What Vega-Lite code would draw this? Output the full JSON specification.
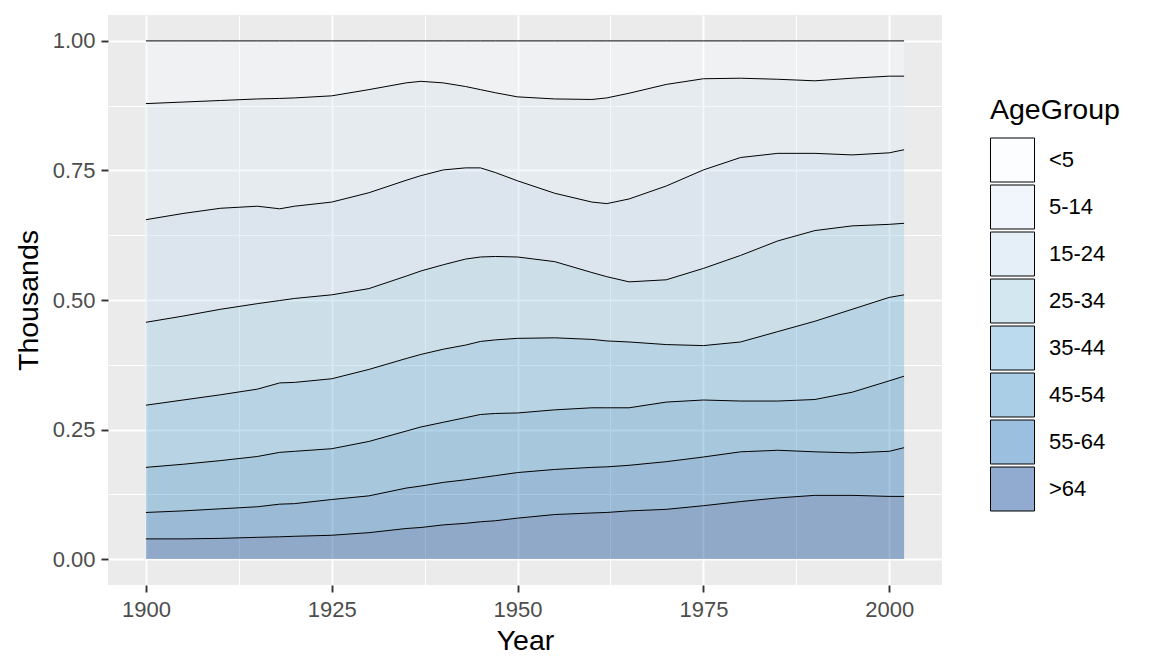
{
  "$schema": "https://vega.github.io/schema/vega-lite/v6.json",
  "width": 834,
  "height": 570,
  "autosize": {"type": "none"},
  "padding": {"left": 108, "top": 15, "right": 210, "bottom": 87},
  "background": "white",
  "datasets": {
    "groups": [
      {"AgeGroup": "<5", "idx": 1},
      {"AgeGroup": "5-14", "idx": 2},
      {"AgeGroup": "15-24", "idx": 3},
      {"AgeGroup": "25-34", "idx": 4},
      {"AgeGroup": "35-44", "idx": 5},
      {"AgeGroup": "45-54", "idx": 6},
      {"AgeGroup": "55-64", "idx": 7},
      {"AgeGroup": ">64", "idx": 8}
    ],
    "pop": [
      {"Year":1900,"AgeGroup":"<5","Share":0.121},{"Year":1900,"AgeGroup":"5-14","Share":0.224},{"Year":1900,"AgeGroup":"15-24","Share":0.198},{"Year":1900,"AgeGroup":"25-34","Share":0.160},{"Year":1900,"AgeGroup":"35-44","Share":0.120},{"Year":1900,"AgeGroup":"45-54","Share":0.087},{"Year":1900,"AgeGroup":"55-64","Share":0.051},{"Year":1900,"AgeGroup":">64","Share":0.039},
      {"Year":1905,"AgeGroup":"<5","Share":0.118},{"Year":1905,"AgeGroup":"5-14","Share":0.215},{"Year":1905,"AgeGroup":"15-24","Share":0.198},{"Year":1905,"AgeGroup":"25-34","Share":0.162},{"Year":1905,"AgeGroup":"35-44","Share":0.124},{"Year":1905,"AgeGroup":"45-54","Share":0.090},{"Year":1905,"AgeGroup":"55-64","Share":0.054},{"Year":1905,"AgeGroup":">64","Share":0.039},
      {"Year":1910,"AgeGroup":"<5","Share":0.115},{"Year":1910,"AgeGroup":"5-14","Share":0.208},{"Year":1910,"AgeGroup":"15-24","Share":0.195},{"Year":1910,"AgeGroup":"25-34","Share":0.165},{"Year":1910,"AgeGroup":"35-44","Share":0.127},{"Year":1910,"AgeGroup":"45-54","Share":0.093},{"Year":1910,"AgeGroup":"55-64","Share":0.057},{"Year":1910,"AgeGroup":">64","Share":0.040},
      {"Year":1915,"AgeGroup":"<5","Share":0.112},{"Year":1915,"AgeGroup":"5-14","Share":0.207},{"Year":1915,"AgeGroup":"15-24","Share":0.188},{"Year":1915,"AgeGroup":"25-34","Share":0.165},{"Year":1915,"AgeGroup":"35-44","Share":0.130},{"Year":1915,"AgeGroup":"45-54","Share":0.097},{"Year":1915,"AgeGroup":"55-64","Share":0.059},{"Year":1915,"AgeGroup":">64","Share":0.042},
      {"Year":1918,"AgeGroup":"<5","Share":0.111},{"Year":1918,"AgeGroup":"5-14","Share":0.213},{"Year":1918,"AgeGroup":"15-24","Share":0.177},{"Year":1918,"AgeGroup":"25-34","Share":0.159},{"Year":1918,"AgeGroup":"35-44","Share":0.134},{"Year":1918,"AgeGroup":"45-54","Share":0.100},{"Year":1918,"AgeGroup":"55-64","Share":0.063},{"Year":1918,"AgeGroup":">64","Share":0.043},
      {"Year":1920,"AgeGroup":"<5","Share":0.110},{"Year":1920,"AgeGroup":"5-14","Share":0.209},{"Year":1920,"AgeGroup":"15-24","Share":0.178},{"Year":1920,"AgeGroup":"25-34","Share":0.162},{"Year":1920,"AgeGroup":"35-44","Share":0.133},{"Year":1920,"AgeGroup":"45-54","Share":0.101},{"Year":1920,"AgeGroup":"55-64","Share":0.063},{"Year":1920,"AgeGroup":">64","Share":0.044},
      {"Year":1925,"AgeGroup":"<5","Share":0.106},{"Year":1925,"AgeGroup":"5-14","Share":0.205},{"Year":1925,"AgeGroup":"15-24","Share":0.179},{"Year":1925,"AgeGroup":"25-34","Share":0.162},{"Year":1925,"AgeGroup":"35-44","Share":0.135},{"Year":1925,"AgeGroup":"45-54","Share":0.098},{"Year":1925,"AgeGroup":"55-64","Share":0.069},{"Year":1925,"AgeGroup":">64","Share":0.046},
      {"Year":1930,"AgeGroup":"<5","Share":0.094},{"Year":1930,"AgeGroup":"5-14","Share":0.199},{"Year":1930,"AgeGroup":"15-24","Share":0.185},{"Year":1930,"AgeGroup":"25-34","Share":0.156},{"Year":1930,"AgeGroup":"35-44","Share":0.139},{"Year":1930,"AgeGroup":"45-54","Share":0.105},{"Year":1930,"AgeGroup":"55-64","Share":0.071},{"Year":1930,"AgeGroup":">64","Share":0.051},
      {"Year":1935,"AgeGroup":"<5","Share":0.081},{"Year":1935,"AgeGroup":"5-14","Share":0.188},{"Year":1935,"AgeGroup":"15-24","Share":0.185},{"Year":1935,"AgeGroup":"25-34","Share":0.159},{"Year":1935,"AgeGroup":"35-44","Share":0.140},{"Year":1935,"AgeGroup":"45-54","Share":0.110},{"Year":1935,"AgeGroup":"55-64","Share":0.078},{"Year":1935,"AgeGroup":">64","Share":0.059},
      {"Year":1937,"AgeGroup":"<5","Share":0.078},{"Year":1937,"AgeGroup":"5-14","Share":0.182},{"Year":1937,"AgeGroup":"15-24","Share":0.184},{"Year":1937,"AgeGroup":"25-34","Share":0.161},{"Year":1937,"AgeGroup":"35-44","Share":0.140},{"Year":1937,"AgeGroup":"45-54","Share":0.114},{"Year":1937,"AgeGroup":"55-64","Share":0.080},{"Year":1937,"AgeGroup":">64","Share":0.061},
      {"Year":1940,"AgeGroup":"<5","Share":0.081},{"Year":1940,"AgeGroup":"5-14","Share":0.168},{"Year":1940,"AgeGroup":"15-24","Share":0.183},{"Year":1940,"AgeGroup":"25-34","Share":0.163},{"Year":1940,"AgeGroup":"35-44","Share":0.141},{"Year":1940,"AgeGroup":"45-54","Share":0.116},{"Year":1940,"AgeGroup":"55-64","Share":0.082},{"Year":1940,"AgeGroup":">64","Share":0.066},
      {"Year":1943,"AgeGroup":"<5","Share":0.088},{"Year":1943,"AgeGroup":"5-14","Share":0.157},{"Year":1943,"AgeGroup":"15-24","Share":0.176},{"Year":1943,"AgeGroup":"25-34","Share":0.166},{"Year":1943,"AgeGroup":"35-44","Share":0.140},{"Year":1943,"AgeGroup":"45-54","Share":0.120},{"Year":1943,"AgeGroup":"55-64","Share":0.084},{"Year":1943,"AgeGroup":">64","Share":0.069},
      {"Year":1945,"AgeGroup":"<5","Share":0.094},{"Year":1945,"AgeGroup":"5-14","Share":0.151},{"Year":1945,"AgeGroup":"15-24","Share":0.172},{"Year":1945,"AgeGroup":"25-34","Share":0.163},{"Year":1945,"AgeGroup":"35-44","Share":0.141},{"Year":1945,"AgeGroup":"45-54","Share":0.122},{"Year":1945,"AgeGroup":"55-64","Share":0.085},{"Year":1945,"AgeGroup":">64","Share":0.072},
      {"Year":1947,"AgeGroup":"<5","Share":0.100},{"Year":1947,"AgeGroup":"5-14","Share":0.154},{"Year":1947,"AgeGroup":"15-24","Share":0.162},{"Year":1947,"AgeGroup":"25-34","Share":0.161},{"Year":1947,"AgeGroup":"35-44","Share":0.142},{"Year":1947,"AgeGroup":"45-54","Share":0.120},{"Year":1947,"AgeGroup":"55-64","Share":0.087},{"Year":1947,"AgeGroup":">64","Share":0.074},
      {"Year":1950,"AgeGroup":"<5","Share":0.108},{"Year":1950,"AgeGroup":"5-14","Share":0.162},{"Year":1950,"AgeGroup":"15-24","Share":0.147},{"Year":1950,"AgeGroup":"25-34","Share":0.157},{"Year":1950,"AgeGroup":"35-44","Share":0.144},{"Year":1950,"AgeGroup":"45-54","Share":0.115},{"Year":1950,"AgeGroup":"55-64","Share":0.088},{"Year":1950,"AgeGroup":">64","Share":0.079},
      {"Year":1955,"AgeGroup":"<5","Share":0.112},{"Year":1955,"AgeGroup":"5-14","Share":0.182},{"Year":1955,"AgeGroup":"15-24","Share":0.132},{"Year":1955,"AgeGroup":"25-34","Share":0.147},{"Year":1955,"AgeGroup":"35-44","Share":0.139},{"Year":1955,"AgeGroup":"45-54","Share":0.115},{"Year":1955,"AgeGroup":"55-64","Share":0.087},{"Year":1955,"AgeGroup":">64","Share":0.086},
      {"Year":1960,"AgeGroup":"<5","Share":0.113},{"Year":1960,"AgeGroup":"5-14","Share":0.198},{"Year":1960,"AgeGroup":"15-24","Share":0.136},{"Year":1960,"AgeGroup":"25-34","Share":0.129},{"Year":1960,"AgeGroup":"35-44","Share":0.132},{"Year":1960,"AgeGroup":"45-54","Share":0.115},{"Year":1960,"AgeGroup":"55-64","Share":0.088},{"Year":1960,"AgeGroup":">64","Share":0.089},
      {"Year":1962,"AgeGroup":"<5","Share":0.110},{"Year":1962,"AgeGroup":"5-14","Share":0.204},{"Year":1962,"AgeGroup":"15-24","Share":0.141},{"Year":1962,"AgeGroup":"25-34","Share":0.124},{"Year":1962,"AgeGroup":"35-44","Share":0.129},{"Year":1962,"AgeGroup":"45-54","Share":0.114},{"Year":1962,"AgeGroup":"55-64","Share":0.088},{"Year":1962,"AgeGroup":">64","Share":0.090},
      {"Year":1965,"AgeGroup":"<5","Share":0.101},{"Year":1965,"AgeGroup":"5-14","Share":0.204},{"Year":1965,"AgeGroup":"15-24","Share":0.160},{"Year":1965,"AgeGroup":"25-34","Share":0.116},{"Year":1965,"AgeGroup":"35-44","Share":0.127},{"Year":1965,"AgeGroup":"45-54","Share":0.111},{"Year":1965,"AgeGroup":"55-64","Share":0.088},{"Year":1965,"AgeGroup":">64","Share":0.093},
      {"Year":1970,"AgeGroup":"<5","Share":0.084},{"Year":1970,"AgeGroup":"5-14","Share":0.196},{"Year":1970,"AgeGroup":"15-24","Share":0.181},{"Year":1970,"AgeGroup":"25-34","Share":0.125},{"Year":1970,"AgeGroup":"35-44","Share":0.111},{"Year":1970,"AgeGroup":"45-54","Share":0.115},{"Year":1970,"AgeGroup":"55-64","Share":0.092},{"Year":1970,"AgeGroup":">64","Share":0.096},
      {"Year":1975,"AgeGroup":"<5","Share":0.073},{"Year":1975,"AgeGroup":"5-14","Share":0.176},{"Year":1975,"AgeGroup":"15-24","Share":0.190},{"Year":1975,"AgeGroup":"25-34","Share":0.149},{"Year":1975,"AgeGroup":"35-44","Share":0.105},{"Year":1975,"AgeGroup":"45-54","Share":0.110},{"Year":1975,"AgeGroup":"55-64","Share":0.094},{"Year":1975,"AgeGroup":">64","Share":0.103},
      {"Year":1980,"AgeGroup":"<5","Share":0.072},{"Year":1980,"AgeGroup":"5-14","Share":0.153},{"Year":1980,"AgeGroup":"15-24","Share":0.189},{"Year":1980,"AgeGroup":"25-34","Share":0.167},{"Year":1980,"AgeGroup":"35-44","Share":0.114},{"Year":1980,"AgeGroup":"45-54","Share":0.098},{"Year":1980,"AgeGroup":"55-64","Share":0.096},{"Year":1980,"AgeGroup":">64","Share":0.111},
      {"Year":1985,"AgeGroup":"<5","Share":0.074},{"Year":1985,"AgeGroup":"5-14","Share":0.143},{"Year":1985,"AgeGroup":"15-24","Share":0.169},{"Year":1985,"AgeGroup":"25-34","Share":0.175},{"Year":1985,"AgeGroup":"35-44","Share":0.134},{"Year":1985,"AgeGroup":"45-54","Share":0.095},{"Year":1985,"AgeGroup":"55-64","Share":0.092},{"Year":1985,"AgeGroup":">64","Share":0.118},
      {"Year":1990,"AgeGroup":"<5","Share":0.077},{"Year":1990,"AgeGroup":"5-14","Share":0.140},{"Year":1990,"AgeGroup":"15-24","Share":0.149},{"Year":1990,"AgeGroup":"25-34","Share":0.175},{"Year":1990,"AgeGroup":"35-44","Share":0.151},{"Year":1990,"AgeGroup":"45-54","Share":0.101},{"Year":1990,"AgeGroup":"55-64","Share":0.084},{"Year":1990,"AgeGroup":">64","Share":0.123},
      {"Year":1995,"AgeGroup":"<5","Share":0.072},{"Year":1995,"AgeGroup":"5-14","Share":0.148},{"Year":1995,"AgeGroup":"15-24","Share":0.137},{"Year":1995,"AgeGroup":"25-34","Share":0.161},{"Year":1995,"AgeGroup":"35-44","Share":0.160},{"Year":1995,"AgeGroup":"45-54","Share":0.117},{"Year":1995,"AgeGroup":"55-64","Share":0.082},{"Year":1995,"AgeGroup":">64","Share":0.123},
      {"Year":2000,"AgeGroup":"<5","Share":0.068},{"Year":2000,"AgeGroup":"5-14","Share":0.148},{"Year":2000,"AgeGroup":"15-24","Share":0.138},{"Year":2000,"AgeGroup":"25-34","Share":0.141},{"Year":2000,"AgeGroup":"35-44","Share":0.161},{"Year":2000,"AgeGroup":"45-54","Share":0.136},{"Year":2000,"AgeGroup":"55-64","Share":0.087},{"Year":2000,"AgeGroup":">64","Share":0.121},
      {"Year":2002,"AgeGroup":"<5","Share":0.068},{"Year":2002,"AgeGroup":"5-14","Share":0.142},{"Year":2002,"AgeGroup":"15-24","Share":0.142},{"Year":2002,"AgeGroup":"25-34","Share":0.138},{"Year":2002,"AgeGroup":"35-44","Share":0.157},{"Year":2002,"AgeGroup":"45-54","Share":0.138},{"Year":2002,"AgeGroup":"55-64","Share":0.094},{"Year":2002,"AgeGroup":">64","Share":0.121}
    ]
  },
  "data": {"name": "pop"},
  "transform": [
    {"lookup": "AgeGroup", "from": {"data": {"name": "groups"}, "key": "AgeGroup", "fields": ["idx"]}}
  ],
  "encoding": {
    "x": {
      "field": "Year", "type": "quantitative",
      "scale": {"domain": [1894.9, 2007.1], "nice": false, "zero": false},
      "axis": {
        "title": "Year",
        "values": [1900, 1912.5, 1925, 1937.5, 1950, 1962.5, 1975, 1987.5, 2000],
        "labelExpr": "datum.value % 25 !== 0 ? '' : format(datum.value, 'd')",
        "gridWidth": {"condition": {"test": "datum.value % 25 !== 0", "value": 1}, "value": 1.9},
        "tickOpacity": {"condition": {"test": "datum.value % 25 !== 0", "value": 0}, "value": 1},
        "labelPadding": 7,
        "titlePadding": 6
      }
    },
    "y": {
      "field": "Share", "type": "quantitative", "stack": "normalize",
      "scale": {"domain": [-0.05, 1.05], "nice": false, "zero": false},
      "axis": {
        "title": "Thousands",
        "values": [0, 0.125, 0.25, 0.375, 0.5, 0.625, 0.75, 0.875, 1],
        "labelExpr": "(datum.value * 8) % 2 !== 0 ? '' : format(datum.value, '.2f')",
        "gridWidth": {"condition": {"test": "(datum.value * 8) % 2 !== 0", "value": 1}, "value": 1.9},
        "tickOpacity": {"condition": {"test": "(datum.value * 8) % 2 !== 0", "value": 0}, "value": 1},
        "labelPadding": 6,
        "titlePadding": 9
      }
    },
    "order": {"field": "idx", "type": "quantitative", "sort": "descending"}
  },
  "layer": [
    {
      "mark": {"type": "area", "fillOpacity": 0.4},
      "encoding": {
        "color": {
          "field": "AgeGroup", "type": "nominal",
          "scale": {
            "domain": ["<5", "5-14", "15-24", "25-34", "35-44", "45-54", "55-64", ">64"],
            "range": ["#F7FBFF", "#DEEBF7", "#C6DBEF", "#9ECAE1", "#6BAED6", "#4292C6", "#2171B5", "#084594"]
          },
          "legend": {
            "title": "AgeGroup",
            "orient": "none",
            "legendX": 882,
            "legendY": 81,
            "symbolType": "square",
            "symbolSize": 1936,
            "symbolStrokeColor": "black",
            "symbolStrokeWidth": 1,
            "symbolOpacity": 1,
            "rowPadding": -4,
            "labelOffset": 14,
            "titlePadding": 13,
            "padding": 0,
            "encode": {"symbols": {"update": {"fillOpacity": {"value": 0.45}, "stroke": {"value": "black"}, "strokeWidth": {"value": 1}, "strokeOpacity": {"value": 1}}}}
          }
        }
      }
    },
    {
      "mark": {"type": "line", "color": "black", "strokeWidth": 1},
      "encoding": {
        "detail": {"field": "AgeGroup", "type": "nominal"}
      }
    }
  ],
  "config": {
    "font": "Liberation Sans",
    "view": {"fill": "#EBEBEB", "stroke": null},
    "axis": {
      "domain": false,
      "gridColor": "white",
      "tickColor": "#333333",
      "tickSize": 7,
      "tickWidth": 1.9,
      "labelColor": "#4D4D4D",
      "labelFontSize": 22,
      "titleFontSize": 28.5,
      "titleFontWeight": "normal",
      "titleColor": "black",
      "labelFont": "Liberation Sans",
      "titleFont": "Liberation Sans"
    },
    "legend": {
      "titleFontSize": 28.5,
      "titleFontWeight": "normal",
      "titleColor": "black",
      "labelFontSize": 22,
      "labelColor": "black",
      "titleFont": "Liberation Sans",
      "labelFont": "Liberation Sans"
    }
  }
}
